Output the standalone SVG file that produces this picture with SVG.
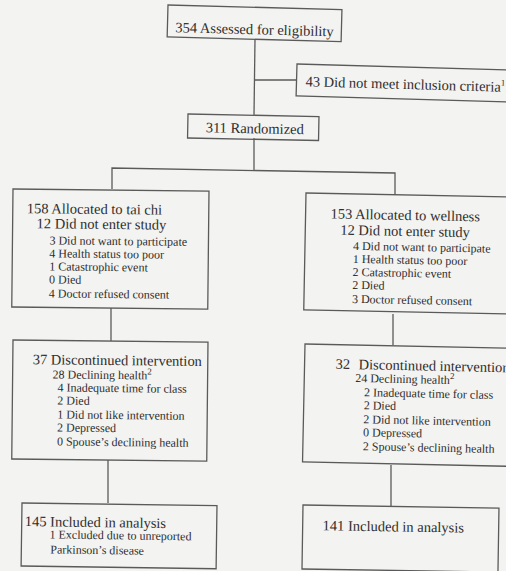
<svg xmlns="http://www.w3.org/2000/svg" width="506" height="571" viewBox="0 0 506 571">
<style>
.box{fill:none;stroke:#5a5a5a;stroke-width:1.3}
.ln{fill:none;stroke:#5a5a5a;stroke-width:1.3}
text{font-family:"Liberation Serif","Times New Roman",serif;fill:#2e2e2e}
.b{font-size:14.5px}
.s{font-size:12px}
.sup{font-size:9px}
</style>
<rect x="0" y="0" width="506" height="571" fill="#f3f3f1"/>
<g id="connectors">
<polyline class="ln" points="255,39 254,115"/>
<polyline class="ln" points="254,80 297,80"/>
<polyline class="ln" points="254,138 254,170"/>
<polyline class="ln" points="112,189 112,168 395,173 395,195"/>
<polyline class="ln" points="111,308 111,341"/>
<polyline class="ln" points="108,460 108,503"/>
<polyline class="ln" points="393,314 393,345"/>
<polyline class="ln" points="391,465 391,506"/>
</g>
<g id="assessed" transform="rotate(1.5 168 5)">
<rect class="box" x="168" y="5" width="174" height="32"/>
<text class="b" x="176" y="32">354 Assessed for eligibility</text>
</g>
<g id="excluded" transform="rotate(1.6 297 64)">
<rect class="box" x="297" y="64" width="230" height="32"/>
<text class="b" x="306" y="86">43 Did not meet inclusion criteria<tspan class="sup" dy="-6">1</tspan></text>
</g>
<g id="randomized" transform="rotate(1.1 188 114)">
<rect class="box" x="188" y="114" width="131" height="24"/>
<text class="b" x="206" y="132">311 Randomized</text>
</g>
<g id="taichi" transform="rotate(0.6 13 189)">
<rect class="box" x="13" y="189" width="196" height="118"/>
<text class="b" x="27" y="213">158 Allocated to tai chi</text>
<text class="b" x="37" y="228">12 Did not enter study</text>
<text class="s" x="50" y="244">3 Did not want to participate</text>
<text class="s" x="50" y="257">4 Health status too poor</text>
<text class="s" x="50" y="270">1 Catastrophic event</text>
<text class="s" x="50" y="283">0 Died</text>
<text class="s" x="50" y="297">4 Doctor refused consent</text>
</g>
<g id="wellness" transform="rotate(1.1 306 193)">
<rect class="box" x="306" y="193" width="230" height="117"/>
<text class="b" x="331" y="218">153 Allocated to wellness</text>
<text class="b" x="341" y="234">12 Did not enter study</text>
<text class="s" x="354" y="249">4 Did not want to participate</text>
<text class="s" x="354" y="262">1 Health status too poor</text>
<text class="s" x="354" y="275">2 Catastrophic event</text>
<text class="s" x="354" y="288">2 Died</text>
<text class="s" x="354" y="302">3 Doctor refused consent</text>
</g>
<g id="taichi-discontinued" transform="rotate(0.6 13 340)">
<rect class="box" x="13" y="340" width="195" height="119"/>
<text class="b" x="33" y="364">37 Discontinued intervention</text>
<text class="s" x="53" y="378">28 Declining health<tspan class="sup" dy="-5">2</tspan></text>
<text class="s" x="58" y="391">4 Inadequate time for class</text>
<text class="s" x="58" y="404">2 Died</text>
<text class="s" x="58" y="418">1 Did not like intervention</text>
<text class="s" x="58" y="431">2 Depressed</text>
<text class="s" x="58" y="445">0 Spouse’s declining health</text>
</g>
<g id="wellness-discontinued" transform="rotate(1.2 305 344)">
<rect class="box" x="305" y="344" width="230" height="118"/>
<text class="b" x="336" y="368">32 <tspan dx="5">Discontinued intervention</tspan></text>
<text class="s" x="356" y="381">24 Declining health<tspan class="sup" dy="-5">2</tspan></text>
<text class="s" x="365" y="395">2 Inadequate time for class</text>
<text class="s" x="365" y="408">2 Died</text>
<text class="s" x="365" y="422">2 Did not like intervention</text>
<text class="s" x="365" y="435">0 Depressed</text>
<text class="s" x="365" y="449">2 Spouse’s declining health</text>
</g>
<g id="taichi-analysis" transform="rotate(0.8 22 503)">
<rect class="box" x="22" y="503" width="195" height="63"/>
<text class="b" x="25" y="526">145 Included in analysis</text>
<text class="s" x="50" y="538">1 Excluded due to unreported</text>
<text class="s" x="51" y="553">Parkinson’s disease</text>
</g>
<g id="wellness-analysis" transform="rotate(0.9 303 505)">
<rect class="box" x="303" y="505" width="196" height="64"/>
<text class="b" x="323" y="530">141 Included in analysis</text>
</g>
</svg>
